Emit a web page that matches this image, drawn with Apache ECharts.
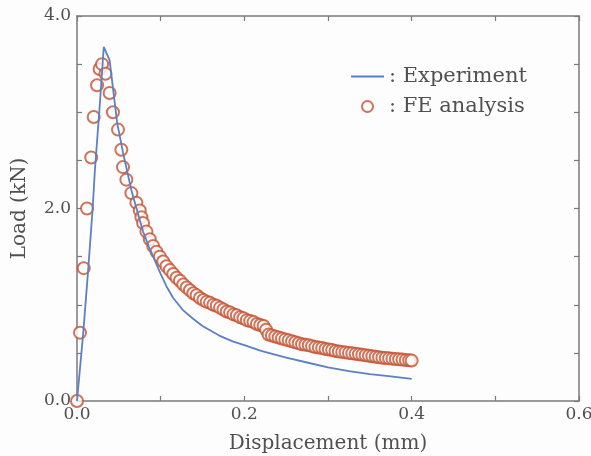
<!DOCTYPE html>
<html>
<head>
<meta charset="utf-8">
<script src="https://cdn.jsdelivr.net/npm/echarts@6/dist/echarts.min.js"></script>
<style>
  html, body { margin: 0; padding: 0; background: #fdfdfd; }
  #main { width: 591px; height: 456px; }
</style>
</head>
<body>
<div id="main"></div>
<script>
// Experiment curve (displacement mm, load kN)
var expX = [0, 0.0075, 0.0135, 0.0187, 0.0214, 0.027, 0.032, 0.034, 0.039, 0.048, 0.055, 0.065, 0.075, 0.079, 0.086, 0.093, 0.100, 0.107, 0.115, 0.126, 0.138, 0.150, 0.170, 0.186, 0.200, 0.220, 0.250, 0.275, 0.300, 0.325, 0.350, 0.375, 0.400];
var expY = [0, 0.71, 1.38, 2.00, 2.40, 3.05, 3.68, 3.66, 3.54, 2.89, 2.58, 2.19, 1.88, 1.76, 1.60, 1.46, 1.32, 1.19, 1.07, 0.95, 0.86, 0.78, 0.68, 0.62, 0.58, 0.52, 0.45, 0.40, 0.35, 0.31, 0.28, 0.255, 0.23];

// FE analysis points
var feX = [0, 0.0036, 0.008, 0.012, 0.017, 0.020, 0.024, 0.027, 0.030, 0.034, 0.039, 0.043, 0.049, 0.053, 0.055, 0.059, 0.065, 0.071, 0.075, 0.077,
  0.079, 0.083, 0.087, 0.091, 0.095, 0.099, 0.103, 0.107, 0.111, 0.115, 0.119, 0.123, 0.127, 0.131, 0.135, 0.139, 0.143, 0.147, 0.151, 0.155,
  0.159, 0.163, 0.167, 0.171, 0.175, 0.179, 0.183, 0.187, 0.191, 0.195, 0.199, 0.203, 0.207, 0.211, 0.215, 0.219, 0.223, 0.226, 0.229, 0.233,
  0.237, 0.241, 0.245, 0.249, 0.253, 0.257, 0.261, 0.265, 0.269, 0.273, 0.277, 0.281, 0.285, 0.289, 0.293, 0.297, 0.301, 0.305, 0.309, 0.313,
  0.317, 0.321, 0.325, 0.329, 0.333, 0.337, 0.341, 0.345, 0.349, 0.353, 0.357, 0.361, 0.365, 0.369, 0.373, 0.377, 0.381, 0.385, 0.389, 0.393, 0.397, 0.400];
var feY = [0, 0.71, 1.38, 2.00, 2.53, 2.95, 3.28, 3.45, 3.50, 3.40, 3.20, 3.00, 2.82, 2.61, 2.43, 2.30, 2.16, 2.06, 1.98, 1.91,
  1.85, 1.76, 1.68, 1.61, 1.55, 1.50, 1.45, 1.40, 1.36, 1.32, 1.28, 1.25, 1.21, 1.18, 1.15, 1.12, 1.10, 1.07, 1.05, 1.03,
  1.02, 1.00, 0.99, 0.97, 0.95, 0.93, 0.92, 0.90, 0.89, 0.87, 0.86, 0.84, 0.83, 0.82, 0.80, 0.79, 0.78, 0.74, 0.69, 0.68,
  0.67, 0.66, 0.65, 0.64, 0.63, 0.62, 0.61, 0.60, 0.59, 0.585, 0.58, 0.57, 0.56, 0.555, 0.55, 0.54, 0.535, 0.53, 0.52, 0.515,
  0.51, 0.505, 0.50, 0.495, 0.49, 0.485, 0.48, 0.475, 0.47, 0.465, 0.46, 0.455, 0.45, 0.447, 0.443, 0.44, 0.436, 0.433, 0.43, 0.426, 0.423, 0.42];

var xLabels = ['0.0', '0.2', '0.4', '0.6'];
var yLabels = ['0.0', '2.0', '4.0'];

function zip(a, b) {
  var out = [];
  for (var i = 0; i < a.length; i++) out.push([a[i], b[i]]);
  return out;
}

var font = 'DejaVu Serif';
var axisColor = '#7a7a7a';
var textColor = '#505050';
var blue = '#5b80c8';
var red = '#c4502f';

var chart = echarts.init(document.getElementById('main'));

var baseX = {
  type: 'value', min: 0, max: 0.6, interval: 0.1,
  axisLine: { onZero: false, lineStyle: { color: axisColor, width: 1.5 } },
  axisTick: { inside: true, length: 5, lineStyle: { color: axisColor, width: 1.2 } },
  splitLine: { show: false }
};
var baseY = {
  type: 'value', min: 0, max: 4, interval: 0.5,
  axisLine: { onZero: false, lineStyle: { color: axisColor, width: 1.5 } },
  axisTick: { inside: true, length: 5, lineStyle: { color: axisColor, width: 1.2 } },
  splitLine: { show: false }
};

var option = {
  backgroundColor: '#fdfdfd',
  animation: false,
  grid: { left: 77, right: 12, top: 16, bottom: 55, outerBoundsMode: 'none', containLabel: false },
  xAxis: [
    Object.assign({}, baseX, {
      position: 'bottom',
      name: 'Displacement (mm)', nameLocation: 'middle', nameGap: 33,
      nameTextStyle: { fontFamily: font, fontSize: 20, color: textColor },
      axisLabel: {
        fontFamily: font, fontSize: 17, color: textColor, margin: 5,
        formatter: function (v) {
          var s = v.toFixed(1);
          return xLabels.indexOf(s) >= 0 && Math.round(v * 10) % 2 === 0 ? s : '';
        }
      }
    }),
    Object.assign({}, baseX, { position: 'top', axisLabel: { show: false } })
  ],
  yAxis: [
    Object.assign({}, baseY, {
      position: 'left',
      name: 'Load (kN)', nameLocation: 'middle', nameGap: 47, nameRotate: 90,
      nameTextStyle: { fontFamily: font, fontSize: 20, color: textColor },
      axisLabel: {
        fontFamily: font, fontSize: 17, color: textColor, margin: 6,
        formatter: function (v) {
          var s = v.toFixed(1);
          return yLabels.indexOf(s) >= 0 ? s : '';
        }
      }
    }),
    Object.assign({}, baseY, { position: 'right', axisLabel: { show: false } })
  ],
  legend: {
    orient: 'vertical', left: 346, top: 61,
    itemWidth: 33, itemHeight: 11, itemGap: 9,
    textStyle: { fontFamily: font, fontSize: 21, color: textColor },
    formatter: function (name) { return ': ' + name; },
    data: [
      { name: 'Experiment', icon: 'path://M0,0 L33,0 L33,2 L0,2 Z', itemStyle: { color: blue } },
      { name: 'FE analysis' }
    ]
  },
  series: [
    {
      name: 'Experiment', type: 'line', xAxisIndex: 0, yAxisIndex: 0,
      data: zip(expX, expY), symbol: 'none', smooth: false, z: 3,
      lineStyle: { color: blue, width: 1.8 },
      itemStyle: { color: blue }
    },
    {
      name: 'FE analysis', type: 'scatter', xAxisIndex: 0, yAxisIndex: 0,
      data: zip(feX, feY), symbol: 'emptyCircle', symbolSize: 12, z: 2,
      itemStyle: { color: red, borderColor: red, borderWidth: 1.8 }
    }
  ]
};

chart.setOption(option);
</script>
</body>
</html>
